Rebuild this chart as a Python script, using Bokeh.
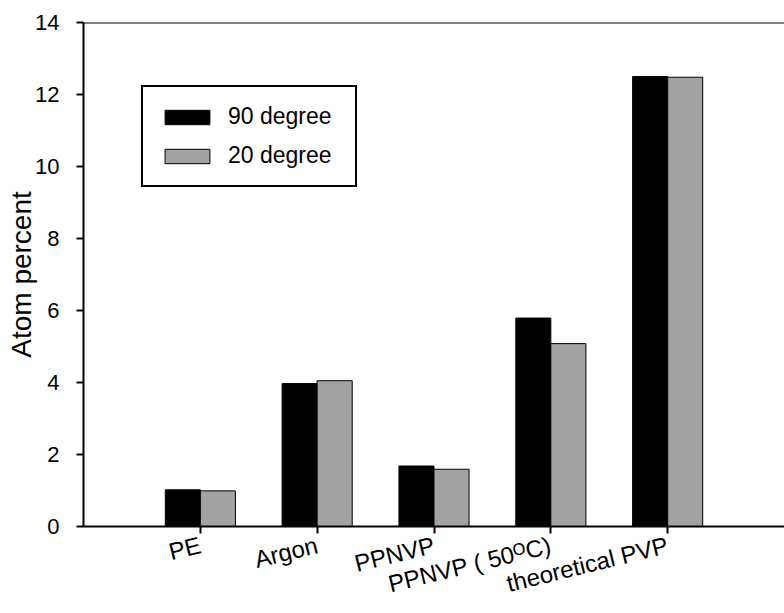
from bokeh.plotting import figure
from bokeh.models import ColumnDataSource, FixedTicker, Span, Legend, LegendItem, Range1d
from bokeh.transform import dodge
from bokeh.embed import file_html
from bokeh.resources import INLINE

categories = ["PE", "Argon", "PPNVP", "PPNVP ( 50\u1d3cC)", "theoretical PVP"]
deg90 = [1.02, 3.97, 1.68, 5.79, 12.5]
deg20 = [0.99, 4.05, 1.59, 5.08, 12.48]
y_ticks = [0, 2, 4, 6, 8, 10, 12, 14]

pos = list(range(1, len(categories) + 1))
src = ColumnDataSource(dict(x=pos, d90=deg90, d20=deg20))

FONT = "Liberation Sans"

p = figure(width=784, height=613, output_backend="svg", toolbar_location=None,
           x_range=Range1d(0, 6.0), y_range=Range1d(0, 14),
           min_border_left=83, min_border_top=22, min_border_bottom=84, min_border_right=0)
p.outline_line_color = None
p.grid.grid_line_color = None
p.background_fill_color = "white"

r1 = p.vbar(x=dodge("x", -0.15), top="d90", width=0.3, source=src,
            fill_color="black", line_color="black", line_width=1)
r2 = p.vbar(x=dodge("x", 0.15), top="d20", width=0.3, source=src,
            fill_color="#a2a2a2", line_color="black", line_width=1)

p.add_layout(Span(location=14, dimension="width", line_color="black", line_width=2))

p.xaxis.ticker = FixedTicker(ticks=pos)
p.xaxis.major_label_overrides = {i: c for i, c in zip(pos, categories)}
p.xaxis.major_label_orientation = 0.24
p.yaxis.ticker = FixedTicker(ticks=y_ticks)
p.yaxis.axis_label = "Atom percent"

for ax in (p.xaxis[0], p.yaxis[0]):
    ax.axis_line_color = "black"
    ax.axis_line_width = 2
    ax.major_tick_line_color = "black"
    ax.major_tick_line_width = 2
    ax.major_tick_out = 7
    ax.major_tick_in = 0
    ax.minor_tick_line_color = None
    ax.major_label_text_font = FONT
    ax.major_label_text_font_size = "22px"
    ax.major_label_text_color = "black"
    ax.axis_label_text_font = FONT
    ax.axis_label_text_font_size = "28px"
    ax.axis_label_text_font_style = "normal"
    ax.axis_label_text_color = "black"

p.xaxis.major_label_text_font_size = "24px"
p.xaxis.major_label_text_line_height = 1.0
p.yaxis.major_label_standoff = 17
p.yaxis.axis_label_standoff = -5
p.xaxis.major_label_standoff = 11

legend = Legend(items=[LegendItem(label="90 degree", renderers=[r1]),
                       LegendItem(label="20 degree", renderers=[r2])],
                location=(58, 339), glyph_width=56, glyph_height=18,
                label_height=20, spacing=12, padding=16, label_standoff=13,
                label_width=111,
                label_text_font=FONT, label_text_font_size="23px",
                label_text_color="black",
                border_line_color="black", border_line_width=2, border_line_alpha=1.0,
                background_fill_alpha=1)
p.add_layout(legend)

open("out.html", "w").write(file_html(p, INLINE))
